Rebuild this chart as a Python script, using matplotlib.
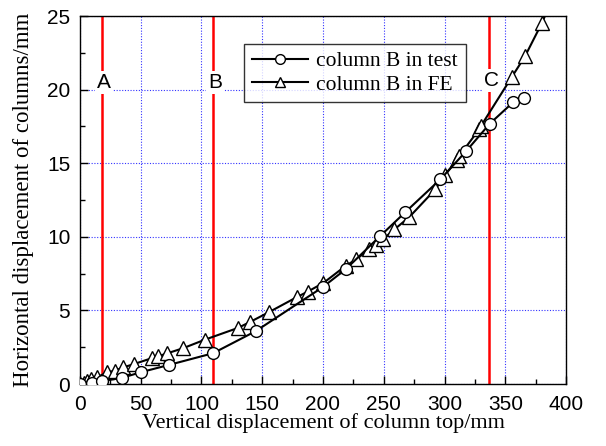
import numpy as np
import matplotlib
matplotlib.use("Agg")
import matplotlib.pyplot as plt
from matplotlib.ticker import MultipleLocator

# test curve (circles)
test_x = [0, 10, 18, 34.2, 50.1, 72.9, 109.5, 144.6, 199.8, 219, 247, 267.8,
          296.5, 317.6, 337.3, 356.7, 365.5]
test_y = [0, 0.1, 0.2, 0.41, 0.8, 1.29, 2.09, 3.59, 6.58, 7.82, 10.05, 11.68,
          13.9, 15.8, 17.69, 19.16, 19.44]

# FE curve (triangles)
fe_x = [0, 3, 6, 8.8, 13.7, 22.4, 28.7, 35.6, 44.6, 58.9, 64.3, 72, 84.8,
        102.7, 130, 139.6, 155.5, 178.4, 187.5, 200.4, 219, 227.3, 238.2,
        243.7, 249.7, 258.7, 271, 292.4, 300.5, 309.9, 312.1, 328.5, 330,
        355.4, 366.3, 380, 388]
fe_y = [0, 0.1, 0.2, 0.34, 0.45, 0.79, 0.9, 1.13, 1.36, 1.75, 1.88, 2.09,
        2.43, 3.01, 3.81, 4.2, 4.88, 5.9, 6.28, 6.87, 8.05, 8.46, 9.18, 9.46,
        9.86, 10.5, 11.34, 13.22, 14.2, 15.19, 15.49, 17.3, 17.53, 20.86,
        22.27, 24.5, 26.0]

# stage lines
stage_x = [18, 109.5, 337]
stage_labels = ["A", "B", "C"]
stage_label_y = [20.5, 20.5, 20.6]

fig = plt.figure(figsize=(6.06, 4.46), dpi=100)
ax = fig.add_axes([0.132, 0.139, 0.802, 0.825])

ax.plot(test_x, test_y, color="black", lw=1.5, marker="o", ms=8.5,
        mfc="white", mec="black", mew=1.0, label="column B in test", zorder=4)
ax.plot(fe_x, fe_y, color="black", lw=1.5, marker="^", ms=9.5,
        mfc="white", mec="black", mew=1.0, label="column B in FE", zorder=3)

for sx, lab, ly in zip(stage_x, stage_labels, stage_label_y):
    ax.axvline(sx, color="red", lw=1.8, zorder=2)
    ax.text(sx + 1.5, ly, lab, fontsize=15, family="Liberation Sans",
            ha="center", va="center", zorder=5,
            bbox=dict(facecolor="white", edgecolor="none", pad=1.5))

ax.set_xlim(0, 400)
ax.set_ylim(0, 25)
ax.xaxis.set_major_locator(MultipleLocator(50))
ax.xaxis.set_minor_locator(MultipleLocator(25))
ax.yaxis.set_major_locator(MultipleLocator(5))
ax.yaxis.set_minor_locator(MultipleLocator(2.5))
ax.tick_params(which="both", direction="in", top=False, right=False)
ax.tick_params(which="major", length=6, width=1, labelsize=15)
ax.tick_params(axis="x", which="major", pad=8)
ax.tick_params(axis="y", which="major", pad=7)
ax.tick_params(which="minor", length=3.5, width=1)
for lab in ax.get_xticklabels() + ax.get_yticklabels():
    lab.set_family("Liberation Sans")

ax.grid(True, which="major", color="#3333ff", ls=(0, (1, 1.5)), lw=0.8)
ax.set_axisbelow(True)
for sp in ax.spines.values():
    sp.set_linewidth(1.0)

ax.set_xlabel("Vertical displacement of column top/mm", family="Liberation Serif",
              fontsize=16, labelpad=-1)
ax.set_ylabel("Horizontal displacement of columns/mm", family="Liberation Serif",
              fontsize=16.5, labelpad=9)

leg = ax.legend(loc="upper left", bbox_to_anchor=(0.338, 0.925),
                prop={"family": "Liberation Serif", "size": 15.5},
                frameon=True, fancybox=False, edgecolor="black",
                handlelength=2.6, borderpad=0.35, labelspacing=0.15,
                handletextpad=0.4, borderaxespad=0)
leg.get_frame().set_linewidth(1.0)
for h in leg.legend_handles:
    h.set_markersize(7)

fig.savefig("out.png", dpi=100)
